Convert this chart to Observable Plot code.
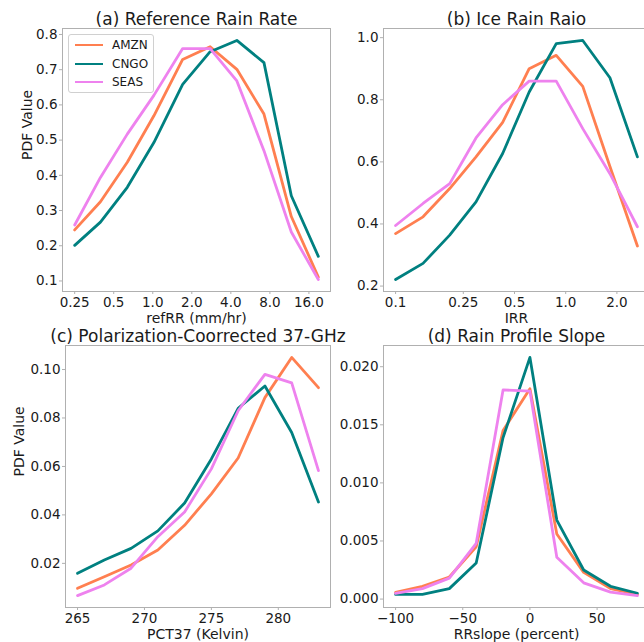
<!DOCTYPE html>
<html>
<head>
<meta charset="utf-8">
<script src="https://cdn.jsdelivr.net/npm/d3@7"></script>
<script src="https://cdn.jsdelivr.net/npm/@observablehq/plot@0.6"></script>
<style>
  body { margin: 0; background: #fff; }
  #fig { position: relative; width: 644px; height: 642px; overflow: hidden; font-family: "DejaVu Sans", sans-serif; }
  #fig svg { position: absolute; left: 0; top: 0; max-width: none !important; }
  .legend { position: absolute; left: 68px; top: 34px; width: 86px; height: 59px; box-sizing: border-box;
            border: 1px solid #d0d0d0; border-radius: 3px; background: rgba(255,255,255,0.85); color: #1a1a1a; font-size: 12px; }
  .legend .row { position: absolute; left: 0; height: 18px; }
  .legend .swatch { position: absolute; left: 6px; width: 28px; top: 8px; height: 0; border-top: 2.8px solid; }
  .legend .name { position: absolute; left: 43px; top: 0; line-height: 18px; white-space: nowrap; }
</style>
</head>
<body>
<div id="fig"></div>
<script>
// Regions and their line colours
const regions = ["AMZN", "CNGO", "SEAS"];
const colors = ["coral", "teal", "violet"];

// (a) Reference rain rate (mm/hr), log2-spaced bins
const refRR = [0.25, 0.395, 0.636, 1.02, 1.70, 2.77, 4.45, 7.2, 11.7, 18.9];
const refRR_AMZN = [0.245, 0.325, 0.437, 0.569, 0.729, 0.765, 0.701, 0.574, 0.283, 0.111];
const refRR_CNGO = [0.201, 0.267, 0.366, 0.493, 0.658, 0.751, 0.783, 0.720, 0.342, 0.170];
const refRR_SEAS = [0.259, 0.394, 0.517, 0.627, 0.760, 0.760, 0.668, 0.470, 0.239, 0.104];
const refRRTicks = [0.25, 0.5, 1, 2, 4, 8, 16];
const refRRTickLabels = ["0.25", "0.5", "1.0", "2.0", "4.0", "8.0", "16.0"];
const refRRYTicks = [0.1, 0.2, 0.3, 0.4, 0.5, 0.6, 0.7, 0.8];
const refRRYTickLabels = ["0.1", "0.2", "0.3", "0.4", "0.5", "0.6", "0.7", "0.8"];

// (b) Ice rain ratio
const irr = [0.1, 0.145, 0.208, 0.297, 0.426, 0.61, 0.88, 1.26, 1.82, 2.64];
const irr_AMZN = [0.369, 0.423, 0.514, 0.616, 0.727, 0.900, 0.943, 0.843, 0.585, 0.329];
const irr_CNGO = [0.221, 0.273, 0.364, 0.471, 0.627, 0.825, 0.981, 0.991, 0.871, 0.616];
const irr_SEAS = [0.395, 0.466, 0.530, 0.677, 0.784, 0.860, 0.860, 0.707, 0.562, 0.391];
const irrTicks = [0.1, 0.25, 0.5, 1, 2];
const irrTickLabels = ["0.1", "0.25", "0.5", "1.0", "2.0"];
const irrYTicks = [0.2, 0.4, 0.6, 0.8, 1.0];
const irrYTickLabels = ["0.2", "0.4", "0.6", "0.8", "1.0"];

// (c) Polarization-corrected 37-GHz brightness temperature (K)
const pct37 = [265, 267, 269, 271, 273, 275, 277, 279, 281, 283];
const pct37_AMZN = [0.0097, 0.0145, 0.0193, 0.0255, 0.0357, 0.0487, 0.0635, 0.0884, 0.105, 0.0925];
const pct37_CNGO = [0.0159, 0.0214, 0.0262, 0.0334, 0.0449, 0.0631, 0.084, 0.0932, 0.074, 0.0453];
const pct37_SEAS = [0.0067, 0.0111, 0.018, 0.031, 0.0412, 0.059, 0.083, 0.098, 0.0945, 0.0583];
const pct37Ticks = [265, 270, 275, 280];
const pct37TickLabels = ["265", "270", "275", "280"];
const pct37YTicks = [0.02, 0.04, 0.06, 0.08, 0.10];
const pct37YTickLabels = ["0.02", "0.04", "0.06", "0.08", "0.10"];

// (d) Rain profile slope (percent)
const rrSlope = [-100, -80, -60, -40, -20, 0, 20, 40, 60, 80];
const rrSlope_AMZN = [0.00057, 0.0011, 0.0019, 0.0045, 0.0145, 0.0181, 0.0056, 0.0023, 0.0009, 0.0004];
const rrSlope_CNGO = [0.0004, 0.0004, 0.0009, 0.0031, 0.0139, 0.0208, 0.0068, 0.0025, 0.0011, 0.0005];
const rrSlope_SEAS = [0.0005, 0.0009, 0.0018, 0.0048, 0.0180, 0.0179, 0.0036, 0.0014, 0.0006, 0.0003];
const rrSlopeTicks = [-100, -50, 0, 50];
const rrSlopeTickLabels = ["\u2212100", "\u221250", "0", "50"];
const rrSlopeYTicks = [0, 0.005, 0.010, 0.015, 0.020];
const rrSlopeYTickLabels = ["0.000", "0.005", "0.010", "0.015", "0.020"];

// Each panel is a full-size SVG; its margins place the frame within the figure
const W = 650, H = 642;
const ink = "#1a1a1a", spine = "#b0b0b0";

function panel(o) {
  const data = regions.flatMap((name, k) => o.x.map((v, i) => ({x: v, y: o.series[k][i], region: name})));
  const [y0, y1] = d3.extent(data, d => d.y);
  const yPad = (y1 - y0) * 0.05;
  const xa = o.x[0], xb = o.x[o.x.length - 1];
  let xScale;
  if (o.log) {
    const l0 = Math.log2(xa), l1 = Math.log2(xb), p = (l1 - l0) * 0.05;
    xScale = {type: "log", base: 2, domain: [2 ** (l0 - p), 2 ** (l1 + p)]};
  } else {
    const p = (xb - xa) * 0.05;
    xScale = {type: "linear", domain: [xa - p, xb + p]};
  }
  const [l, t, r, b] = o.frame;
  const marks = [
    Plot.axisX(o.xTicks, {tickFormat: d => o.xTickLabels[o.xTicks.indexOf(d)], tickSize: 3, tickPadding: 3,
      fontSize: 13.5, stroke: spine, fill: ink, label: null}),
    Plot.axisY(o.yTicks, {tickFormat: d => o.yTickLabels[o.yTicks.indexOf(d)], tickSize: 3, tickPadding: 2,
      fontSize: 13.5, stroke: spine, fill: ink, label: null}),
    Plot.line(data, {x: "x", y: "y", z: "region", stroke: "region", strokeWidth: 2.8}),
    Plot.frame({stroke: spine}),
    Plot.text([o.title], {frameAnchor: "top", lineAnchor: "bottom", dy: -3.5, fontSize: 17, fill: ink}),
    Plot.text([o.xLabel], {frameAnchor: "bottom", lineAnchor: "top", dy: 22, fontSize: 14, fill: ink})
  ];
  if (o.yLabel) {
    marks.push(Plot.text([o.yLabel], {frameAnchor: "left", rotate: -90, dx: o.yLabelDx, fontSize: 14, fill: ink}));
  }
  return Plot.plot({
    width: W, height: H,
    marginLeft: l, marginTop: t, marginRight: W - r, marginBottom: H - b,
    style: {background: "transparent", overflow: "visible", maxWidth: "none", fontFamily: "DejaVu Sans", color: ink},
    x: xScale,
    y: {domain: [y0 - yPad, y1 + yPad]},
    color: {domain: regions, range: colors},
    marks
  });
}

const fig = document.getElementById("fig");

fig.append(panel({
  x: refRR, series: [refRR_AMZN, refRR_CNGO, refRR_SEAS], log: true,
  xTicks: refRRTicks, xTickLabels: refRRTickLabels, yTicks: refRRYTicks, yTickLabels: refRRYTickLabels,
  title: "(a) Reference Rain Rate", xLabel: "refRR (mm/hr)", yLabel: "PDF Value", yLabelDx: -35,
  frame: [62, 28, 330, 291]
}));
fig.append(panel({
  x: irr, series: [irr_AMZN, irr_CNGO, irr_SEAS], log: true,
  xTicks: irrTicks, xTickLabels: irrTickLabels, yTicks: irrYTicks, yTickLabels: irrYTickLabels,
  title: "(b) Ice Rain Raio", xLabel: "IRR",
  frame: [383, 28, 649, 291]
}));
fig.append(panel({
  x: pct37, series: [pct37_AMZN, pct37_CNGO, pct37_SEAS], log: false,
  xTicks: pct37Ticks, xTickLabels: pct37TickLabels, yTicks: pct37YTicks, yTickLabels: pct37YTickLabels,
  title: "(c) Polarization-Coorrected 37-GHz", xLabel: "PCT37 (Kelvin)", yLabel: "PDF Value", yLabelDx: -46,
  frame: [65, 345, 330, 607]
}));
fig.append(panel({
  x: rrSlope, series: [rrSlope_AMZN, rrSlope_CNGO, rrSlope_SEAS], log: false,
  xTicks: rrSlopeTicks, xTickLabels: rrSlopeTickLabels, yTicks: rrSlopeYTicks, yTickLabels: rrSlopeYTickLabels,
  title: "(d) Rain Profile Slope", xLabel: "RRslope (percent)",
  frame: [383, 345, 649, 607]
}));

// Legend for panel (a)
const legend = document.createElement("div");
legend.className = "legend";
regions.forEach((name, k) => {
  const row = document.createElement("div");
  row.className = "row";
  row.style.top = (1 + k * 18.5) + "px";
  const sw = document.createElement("div");
  sw.className = "swatch";
  sw.style.borderTopColor = colors[k];
  const label = document.createElement("div");
  label.className = "name";
  label.textContent = name;
  row.append(sw, label);
  legend.append(row);
});
fig.append(legend);
</script>
</body>
</html>
